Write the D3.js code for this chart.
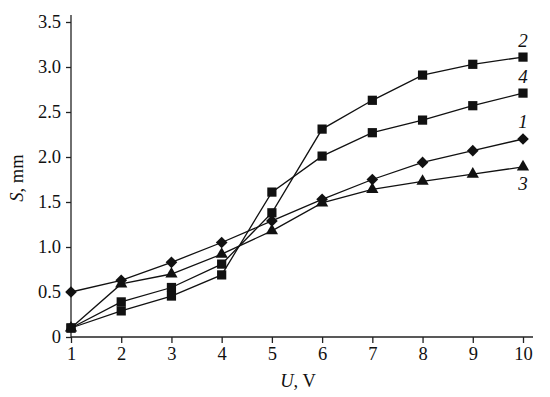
<!DOCTYPE html>
<html>
<head>
<meta charset="utf-8">
<script src="https://cdn.jsdelivr.net/npm/d3@7.9.0/dist/d3.min.js"></script>
<style>
  body { margin: 0; background: #fff; }
  svg { display: block; }
  svg text { font-family: 'Times New Roman', 'Liberation Serif', Times, serif; }
</style>
</head>
<body>
<svg width="550" height="397"></svg>
<script>
const voltages = [1, 2, 3, 4, 5, 6, 7, 8, 9, 10];
const curve1 = [0.5, 0.63, 0.83, 1.05, 1.29, 1.53, 1.75, 1.94, 2.07, 2.2];
const curve2 = [0.1, 0.39, 0.55, 0.81, 1.38, 2.31, 2.63, 2.91, 3.03, 3.11];
const curve3 = [0.1, 0.59, 0.7, 0.92, 1.18, 1.49, 1.64, 1.73, 1.81, 1.89];
const curve4 = [0.1, 0.29, 0.455, 0.69, 1.61, 2.01, 2.27, 2.41, 2.57, 2.71];
const yTicks = [0, 0.5, 1.0, 1.5, 2.0, 2.5, 3.0, 3.5];

const series = [
  { label: '1', values: curve1, marker: d3.symbolSquare, size: 68, rotate: 45 },
  { label: '2', values: curve2, marker: d3.symbolSquare, size: 85 },
  { label: '3', values: curve3, marker: d3.symbolTriangle, size: 65 },
  { label: '4', values: curve4, marker: d3.symbolSquare, size: 85 },
];

const svg = d3.select('svg');
const x = d3.scaleLinear().domain([1, 10]).range([71, 523]);
const y = d3.scaleLinear().domain([0, 3.5]).range([337, 22]);

// axes
const xAxis = svg.append('g').attr('transform', `translate(0,${y(0)})`)
  .call(d3.axisBottom(x).tickValues(voltages).tickSize(6).tickPadding(4).tickFormat(d3.format('d')));
xAxis.select('.domain').attr('d', `M${x(1)},0H533`);

const yAxis = svg.append('g').attr('transform', `translate(${x(1)},0)`)
  .call(d3.axisLeft(y).tickValues(yTicks).tickSize(5).tickPadding(5)
    .tickFormat(d => d === 0 ? '0' : d3.format('.1f')(d)));
yAxis.select('.domain').attr('d', `M0,${y(0)}V15`);

svg.selectAll('.domain, .tick line').attr('stroke', '#222').attr('stroke-width', 1.3);
svg.selectAll('g').attr('font-family', null);
svg.selectAll('.tick text').attr('font-size', 18.5).attr('fill', '#111');

// lines and markers
const line = d3.line().x((d, i) => x(voltages[i])).y(d => y(d));
series.forEach(s => {
  svg.append('path').attr('d', line(s.values))
    .attr('fill', 'none').attr('stroke', '#111').attr('stroke-width', 1.3);
  svg.append('g').selectAll('path').data(s.values).join('path')
    .attr('transform', (d, i) => `translate(${x(voltages[i])},${y(d)})` + (s.rotate ? ` rotate(${s.rotate})` : ''))
    .attr('d', d3.symbol().type(s.marker).size(s.size))
    .attr('fill', '#111');
});

// curve numbers
const curveLabels = [
  { text: '2', y: 47 }, { text: '4', y: 83 }, { text: '1', y: 128 }, { text: '3', y: 190 },
];
svg.selectAll('.clabel').data(curveLabels).join('text')
  .attr('x', 523).attr('y', d => d.y)
  .attr('text-anchor', 'middle').attr('font-size', 19).attr('font-style', 'italic')
  .attr('fill', '#111').text(d => d.text);

// axis titles
const xt = svg.append('text').attr('x', 298).attr('y', 387)
  .attr('text-anchor', 'middle').attr('font-size', 18.5).attr('fill', '#111');
xt.append('tspan').attr('font-style', 'italic').text('U');
xt.append('tspan').text(', V');

const yt = svg.append('text').attr('transform', 'translate(23,178) rotate(-90)')
  .attr('text-anchor', 'middle').attr('font-size', 18.5).attr('fill', '#111');
yt.append('tspan').attr('font-style', 'italic').text('S');
yt.append('tspan').text(', mm');
</script>
</body>
</html>
